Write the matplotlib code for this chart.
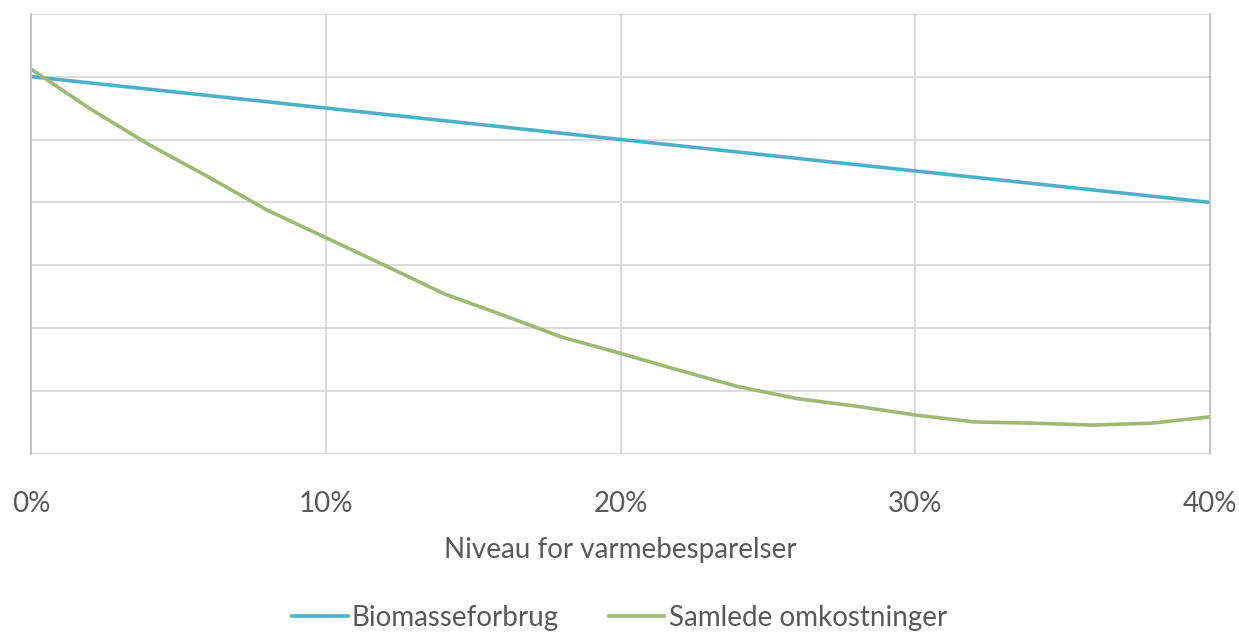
import matplotlib
matplotlib.use("Agg")
import matplotlib.pyplot as plt
import numpy as np

plt.rcParams['font.family'] = ['Lato', 'DejaVu Sans']

niveau = [0, 2, 4, 6, 8, 10, 12, 14, 16, 18, 20, 22, 24, 26, 28, 30, 32, 34, 36, 38, 40]
biomasse = [6.0, 5.9, 5.8, 5.7, 5.6, 5.5, 5.4, 5.3, 5.2, 5.1, 5.0, 4.9, 4.8, 4.7, 4.6, 4.5,
            4.4, 4.3, 4.2, 4.1, 4.0]
samlede = [6.12, 5.49, 4.92, 4.41, 3.88, 3.44, 3.0, 2.55, 2.21, 1.86, 1.60, 1.33, 1.07,
           0.88, 0.76, 0.62, 0.51, 0.49, 0.46, 0.49, 0.59]
xticks = [0, 10, 20, 30, 40]
xticklabels = ['0%', '10%', '20%', '30%', '40%']

fig = plt.figure(figsize=(12.39, 6.34), dpi=100)
ax = fig.add_axes([31/1239, 1-454/634, (1210-31)/1239, (454-13.7)/634])

ax.plot(niveau, biomasse, color='#4BB1C7', lw=2.6, label='Biomasseforbrug', solid_joinstyle='round')
ax.plot(niveau, samlede, color='#A0B872', lw=2.6, label='Samlede omkostninger', solid_joinstyle='round')

ax.set_xlim(0, 40)
ax.set_ylim(0, 7)
ax.set_xticks(xticks)
ax.set_xticklabels(xticklabels, fontsize=20, color='#595959')
ax.set_yticks(np.arange(0, 8, 1))
ax.set_yticklabels([])
ax.tick_params(length=0, pad=27)
ax.grid(True, color='#D9D9D9', lw=1.3)
ax.set_axisbelow(True)
for s in ['top', 'bottom']:
    ax.spines[s].set_visible(False)
for s in ['left', 'right']:
    ax.spines[s].set_color('#BFBFBF')
    ax.spines[s].set_linewidth(1.3)

ax.set_xlabel('Niveau for varmebesparelser', fontsize=20, color='#595959', labelpad=14)

fig.legend(loc='lower center', bbox_to_anchor=(0.5, -0.034), ncol=2, frameon=False,
           prop={'size': 20}, labelcolor='#595959',
           handlelength=2.0, handletextpad=0.15, columnspacing=1.8)

fig.savefig('out.png', dpi=100)
